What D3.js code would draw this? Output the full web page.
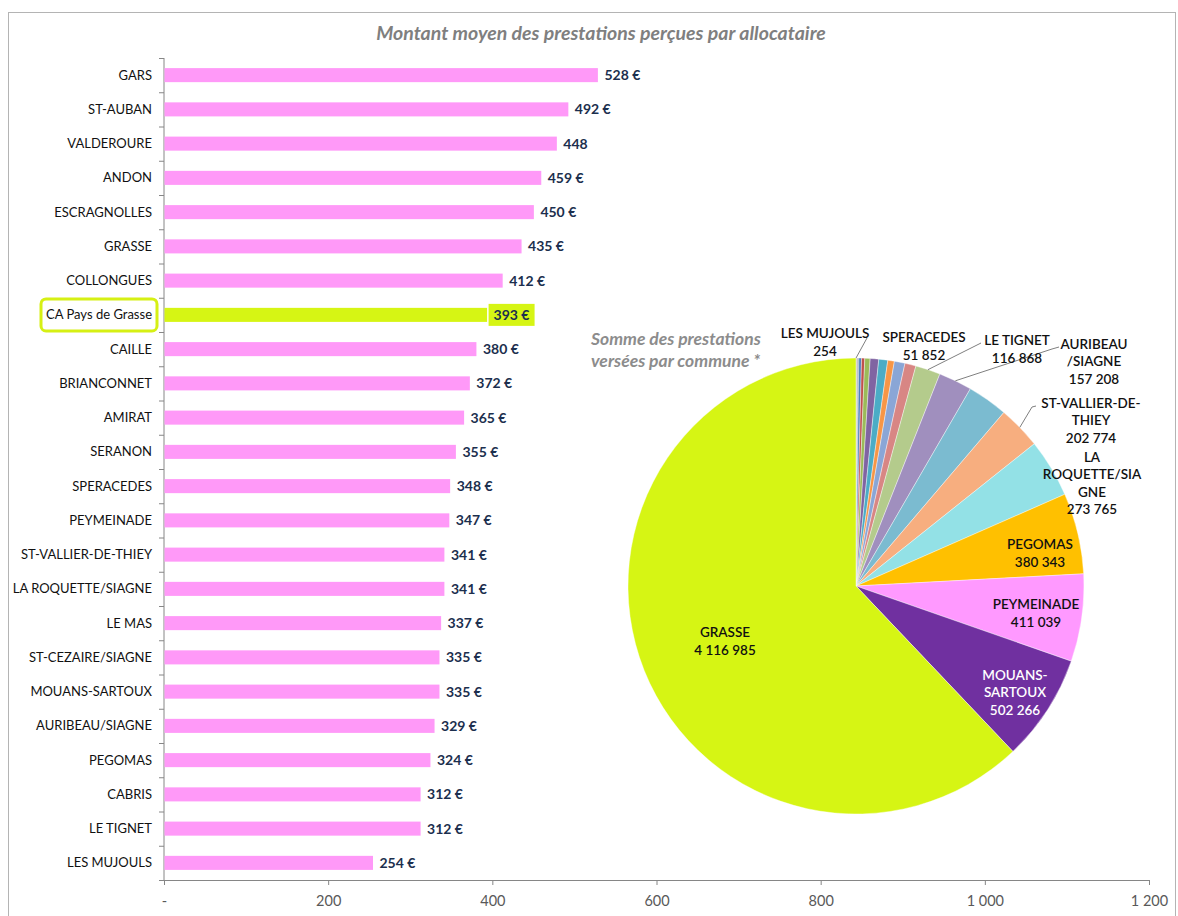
<!DOCTYPE html>
<html>
<head>
<meta charset="utf-8">
<script src="https://cdn.jsdelivr.net/npm/d3@7"></script>
<style>
  body { margin: 0; background: #fff; }
  svg { display: block; font-family: Lato, "Open Sans", sans-serif; }
</style>
</head>
<body>
<div id="chart"></div>
<script>
// Montant moyen par allocataire (barres)
const communes = ['GARS', 'ST-AUBAN', 'VALDEROURE', 'ANDON', 'ESCRAGNOLLES', 'GRASSE', 'COLLONGUES',
  'CA Pays de Grasse', 'CAILLE', 'BRIANCONNET', 'AMIRAT', 'SERANON', 'SPERACEDES', 'PEYMEINADE',
  'ST-VALLIER-DE-THIEY', 'LA ROQUETTE/SIAGNE', 'LE MAS', 'ST-CEZAIRE/SIAGNE', 'MOUANS-SARTOUX',
  'AURIBEAU/SIAGNE', 'PEGOMAS', 'CABRIS', 'LE TIGNET', 'LES MUJOULS'];
// bar lengths as drawn (VALDEROURE's bar is longer than its "448" label)
const montantMoyen = [528, 492, 478, 459, 450, 435, 412, 393, 380, 372, 365, 355, 348, 347, 341, 341,
  337, 335, 335, 329, 324, 312, 312, 254];
const montantLabels = ['528 €', '492 €', '448', '459 €', '450 €', '435 €', '412 €', '393 €', '380 €',
  '372 €', '365 €', '355 €', '348 €', '347 €', '341 €', '341 €', '337 €', '335 €', '335 €', '329 €',
  '324 €', '312 €', '312 €', '254 €'];
const xTicks = [0, 200, 400, 600, 800, 1000, 1200];

// Somme des prestations versées par commune (camembert)
const pieCommunes = ['LES MUJOULS', 'GARS', 'AMIRAT', 'COLLONGUES', 'ST-AUBAN', 'ESCRAGNOLLES',
  'BRIANCONNET', 'SERANON', 'LE MAS', 'VALDEROURE', 'CAILLE', 'ANDON', 'CABRIS', 'SPERACEDES',
  'LE TIGNET', 'AURIBEAU/SIAGNE', 'ST-CEZAIRE/SIAGNE', 'ST-VALLIER-DE-THIEY', 'LA ROQUETTE/SIAGNE',
  'PEGOMAS', 'PEYMEINADE', 'MOUANS-SARTOUX', 'GRASSE'];
const sommePrestations = [254, 1500, 2000, 2500, 3000, 3500, 13000, 15000, 25000, 40000, 42000, 31000,
  50000, 51852, 116868, 157208, 190000, 202774, 273765, 380343, 411039, 502266, 4116985];
const pieColors = ['#8c8c8c', '#2c4d75', '#772c2a', '#5f7530', '#4d3b62', '#276a7c',
  '#4f81bd', '#c0504d', '#9bbb59', '#8064a2', '#4bacc6', '#f79646', '#8aa6d6', '#d88684',
  '#b4cb8c', '#a08fbe', '#7bbbd0', '#f7ae7f', '#93e1e6', '#ffc000', '#ff99ff', '#7030a0', '#d6f514'];

// label text lines for the named slices
const pieLabelLines = {
  'LES MUJOULS': ['LES MUJOULS'],
  'SPERACEDES': ['SPERACEDES'],
  'LE TIGNET': ['LE TIGNET'],
  'AURIBEAU/SIAGNE': ['AURIBEAU', '/SIAGNE'],
  'ST-VALLIER-DE-THIEY': ['ST-VALLIER-DE-', 'THIEY'],
  'LA ROQUETTE/SIAGNE': ['LA', 'ROQUETTE/SIA', 'GNE'],
  'PEGOMAS': ['PEGOMAS'],
  'PEYMEINADE': ['PEYMEINADE'],
  'MOUANS-SARTOUX': ['MOUANS-', 'SARTOUX'],
  'GRASSE': ['GRASSE'],
};

const W = 1178;
const H = 916;

const fr = d3.formatLocale({ decimal: ',', thousands: '\u00a0', grouping: [3], currency: ['', ' €'] });
const fmt = fr.format(',d');

const svg = d3.select('#chart').append('svg')
  .attr('width', W)
  .attr('height', H);

// frame
svg.append('rect')
  .attr('x', 8.5).attr('y', 12.5)
  .attr('width', 1167).attr('height', 920)
  .attr('fill', 'none')
  .attr('stroke', '#b4b4b4');

svg.append('text')
  .attr('x', 601).attr('y', 40)
  .attr('text-anchor', 'middle')
  .style('font-size', '19.5px')
  .style('font-style', 'italic')
  .style('font-weight', 700)
  .attr('fill', '#7f7f7f')
  .text('Montant moyen des prestations perçues par allocataire');

// ---- bar chart
const x = d3.scaleLinear().domain([0, 1200]).range([164, 1149]);
const y = d3.scaleBand().domain(communes).range([58, 880]).paddingInner(0.59).paddingOuter(0.295);

const xAxis = svg.append('g')
  .attr('transform', 'translate(0,880)')
  .call(d3.axisBottom(x).tickValues(xTicks).tickSize(5).tickPadding(11)
    .tickFormat((d) => (d === 0 ? '-' : fmt(d))));
xAxis.select('.domain').attr('stroke', '#868686');
xAxis.selectAll('line').attr('stroke', '#868686');
xAxis.selectAll('text').attr('fill', '#595959').style('font-size', '14.5px').style('font-family', 'Lato');

const yAxisG = svg.append('g').attr('transform', 'translate(164,0)');
yAxisG.append('line')
  .attr('y1', 58).attr('y2', 880)
  .attr('stroke', '#868686');
const step = y.step();
yAxisG.selectAll('line.tick')
  .data(d3.range(communes.length + 1))
  .enter()
  .append('line')
  .attr('class', 'tick')
  .attr('x1', -5).attr('x2', 0)
  .attr('y1', (i) => 58 + i * step + 0.5)
  .attr('y2', (i) => 58 + i * step + 0.5)
  .attr('stroke', '#868686');

const rows = communes.map((c, i) => ({ name: c, value: montantMoyen[i], label: montantLabels[i] }));
const isCA = (d) => d.name === 'CA Pays de Grasse';

svg.selectAll('rect.bar')
  .data(rows)
  .enter()
  .append('rect')
  .attr('class', 'bar')
  .attr('x', x(0) + 0.5)
  .attr('y', (d) => y(d.name))
  .attr('width', (d) => x(d.value) - x(0))
  .attr('height', y.bandwidth())
  .attr('fill', (d) => (isCA(d) ? '#d6f514' : '#ff99f8'));

svg.selectAll('text.cat')
  .data(rows)
  .enter()
  .append('text')
  .attr('class', 'cat')
  .attr('x', 152)
  .attr('y', (d) => y(d.name) + y.bandwidth() / 2 + 4.5)
  .attr('text-anchor', 'end')
  .style('font-size', '13px')
  .attr('fill', '#111')
  .text((d) => d.name);

// highlight box round CA label
const caY = y('CA Pays de Grasse') + y.bandwidth() / 2;
svg.append('rect')
  .attr('x', 41).attr('y', caY - 16)
  .attr('width', 116).attr('height', 32)
  .attr('rx', 5)
  .attr('fill', 'none')
  .attr('stroke', '#d6f014')
  .attr('stroke-width', 3);

const caRow = rows.find(isCA);
svg.append('rect')
  .attr('x', x(caRow.value) + 2).attr('y', caY - 11)
  .attr('width', 46).attr('height', 22)
  .attr('fill', '#d6f514');

svg.selectAll('text.val')
  .data(rows)
  .enter()
  .append('text')
  .attr('class', 'val')
  .attr('x', (d) => x(d.value) + 7)
  .attr('y', (d) => y(d.name) + y.bandwidth() / 2 + 5)
  .style('font-size', '14px')
  .style('font-weight', 700)
  .attr('fill', '#1c2f4e')
  .text((d) => d.label);

// ---- pie chart
const cx = 856;
const cy = 586;
const R = 228;

const slices = pieCommunes.map((c, i) => ({ name: c, value: sommePrestations[i], color: pieColors[i] }));
const pie = d3.pie().sort(null).value((d) => d.value);
const arcs = pie(slices);
const arc = d3.arc().innerRadius(0).outerRadius(R);

const pieG = svg.append('g').attr('transform', `translate(${cx},${cy})`);
pieG.selectAll('path')
  .data(arcs)
  .enter()
  .append('path')
  .attr('d', arc)
  .attr('fill', (d) => d.data.color)
  .attr('stroke', '#fff')
  .attr('stroke-width', 0.4);

svg.append('text')
  .attr('x', 591).attr('y', 345)
  .style('font-size', '17.5px')
  .style('font-style', 'italic')
  .style('font-weight', 700)
  .attr('fill', '#8c8c8c')
  .selectAll('tspan')
  .data(['Somme des prestations', 'versées par commune  *'])
  .enter()
  .append('tspan')
  .attr('x', 591)
  .attr('dy', (d, i) => (i === 0 ? 0 : 22))
  .text((d) => d);

// label block centre, relative to pie centre; optional leader bend points
const labelPlace = {
  'LES MUJOULS': { at: [-31, -244], lead: [[11, -248]] },
  'SPERACEDES': { at: [68, -240] },
  'LE TIGNET': { at: [161, -237], lead: [[125, -243]] },
  'AURIBEAU/SIAGNE': { at: [238, -225], lead: [[203, -239], [196, -237]] },
  'ST-VALLIER-DE-THIEY': { at: [235, -166], lead: [[180, -180], [176, -179]] },
  'LA ROQUETTE/SIAGNE': { at: [236, -103] },
  'PEGOMAS': { at: [184, -33] },
  'PEYMEINADE': { at: [180, 27] },
  'MOUANS-SARTOUX': { at: [159, 106], color: '#fff' },
  'GRASSE': { at: [-131, 55] },
};

const named = arcs.filter((d) => labelPlace[d.data.name]);

// leader lines to the rim at each slice mid-angle
named.filter((d) => labelPlace[d.data.name].lead).forEach((d) => {
  const mid = (d.startAngle + d.endAngle) / 2;
  const rim = [Math.sin(mid) * R, -Math.cos(mid) * R];
  const pts = labelPlace[d.data.name].lead.concat([rim]);
  pieG.append('path')
    .attr('d', d3.line()(pts))
    .attr('fill', 'none')
    .attr('stroke', '#7f7f7f')
    .attr('stroke-width', 1);
});

named.forEach((d) => {
  const p = labelPlace[d.data.name];
  const lines = pieLabelLines[d.data.name].concat([fmt(d.data.value)]);
  const n = lines.length;
  pieG.append('text')
    .attr('text-anchor', 'middle')
    .style('font-size', '13.5px')
    .style('font-weight', 600)
    .attr('fill', p.color || '#111')
    .selectAll('tspan')
    .data(lines)
    .enter()
    .append('tspan')
    .attr('x', p.at[0])
    .attr('y', (t, i) => p.at[1] - ((n - 1) * 17.5) / 2 + i * 17.5 + 5)
    .text((t) => t);
});
</script>
</body>
</html>
